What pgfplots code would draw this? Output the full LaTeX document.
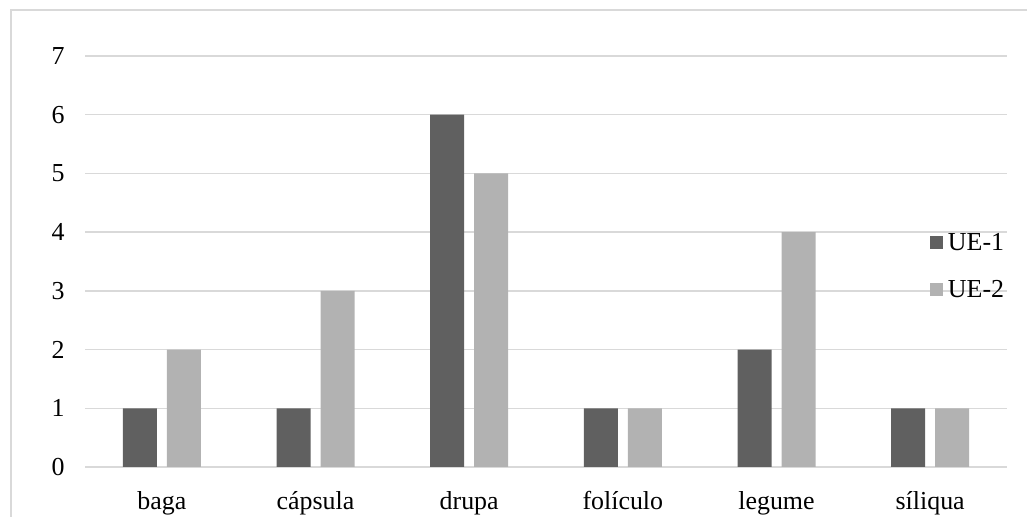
\documentclass[border=0pt]{standalone}
\usepackage{pgfplots}
\pgfplotsset{compat=1.18}
\usepackage{fontspec}
\setmainfont{Liberation Serif}

\definecolor{ueone}{HTML}{606060}
\definecolor{uetwo}{HTML}{B2B2B2}
\definecolor{gridgray}{HTML}{D9D9D9}

\begin{document}
\begin{tikzpicture}[x=1bp,y=1bp]
  \path[use as bounding box] (0,0) rectangle (1027,517);
  % chart frame (left and top edges)
  \draw[gridgray, line width=1.5bp] (11,0) -- (11,507) -- (1027,507);
  \begin{axis}[
    at={(85bp,50bp)}, anchor=south west,
    scale only axis,
    width=922bp, height=411bp,
    ybar=10bp, bar width=34bp,
    xmin=-0.5, xmax=5.5,
    ymin=0, ymax=7,
    ytick={0,...,7},
    xtick=data,
    xticklabels={baga, cápsula, drupa, folículo, legume, síliqua},
    major tick length=0pt,
    axis line style={draw=none},
    ymajorgrids,
    major grid style={gridgray, line width=1.5bp},
    tick label style={font=\fontsize{26}{30}\selectfont},
    /pgf/number format/assume math mode=true,
    yticklabel style={xshift=-17bp},
    xticklabel style={yshift=-21bp},
    legend style={draw=none, fill=none, at={(0.913,0.578)}, anchor=north west,
      font=\fontsize{26}{30}\selectfont, row sep=24bp,
      legend cell align=left},
    legend image code/.code={\fill[#1] (0bp,-6.5bp) rectangle (13bp,6.5bp); \path (16bp,0bp);},
  ]
    \addplot[fill=ueone, draw=none] coordinates {(0,1) (1,1) (2,6) (3,1) (4,2) (5,1)};
    \addplot[fill=uetwo, draw=none] coordinates {(0,2) (1,3) (2,5) (3,1) (4,4) (5,1)};
    \legend{UE-1, UE-2}
  \end{axis}
\end{tikzpicture}
\end{document}
